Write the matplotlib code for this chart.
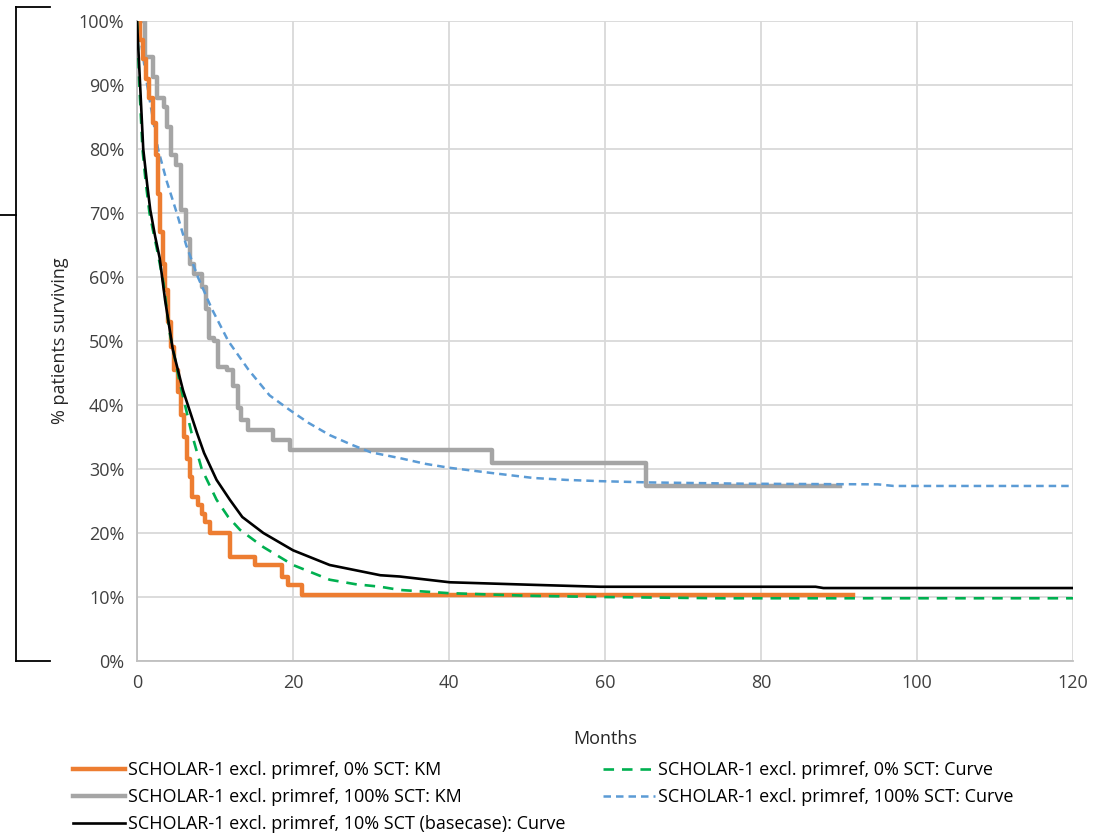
import matplotlib
matplotlib.use('Agg')
from matplotlib import pyplot as plt
from matplotlib.lines import Line2D
import numpy as np

plt.rcParams['font.family'] = ['Liberation Sans Narrow', 'Open Sans', 'DejaVu Sans']

# KM: 0% SCT (step, post)
km0_t = [0, 0.4, 0.8, 1.2, 1.6, 2.0, 2.4, 2.7, 3.0, 3.3, 3.6, 4.0, 4.4, 4.8, 5.2, 5.6,
         6.0, 6.4, 6.8, 7.1, 7.8, 8.3, 8.7, 9.4, 11.9, 15.1, 18.6, 19.4, 21.1, 91.8]
km0_s = [100, 97, 94, 91, 88, 84, 79, 73, 67, 62, 58, 53, 49, 45.5, 42, 38.5,
         35, 31.5, 28.7, 25.6, 24.4, 23, 21.7, 20, 16.3, 15, 13.1, 11.9, 10.3, 10.3]

# KM: 100% SCT
km100_t = [0, 1.0, 2.1, 2.6, 3.4, 3.9, 4.3, 5.0, 5.6, 6.3, 6.8, 7.3, 8.3, 8.8, 9.2, 9.9,
           10.4, 11.6, 12.3, 12.9, 13.3, 14.2, 17.4, 19.6, 45.5, 65.3, 90.1]
km100_s = [100, 94.4, 91.2, 88, 86.5, 83.5, 79, 77.5, 70.5, 66, 62, 60.5, 58.5, 55, 50.5, 50,
           46, 45.5, 43, 39.5, 37.7, 36.1, 34.5, 33, 30.9, 27.4, 27.4]

# fitted curves
c0_t = [0, 0.3, 0.7, 1.1, 1.6, 2.1, 2.7, 3.4, 4.2, 5.5, 7.0, 8.3, 10.2, 11.7, 13.2, 16.2,
        20, 24.7, 28, 31.2, 33.7, 40, 50, 59.4, 75, 120]
c0_s = [100, 90, 80, 75, 70, 67, 63.5, 59, 51.2, 43.4, 35.6, 30, 25.2, 22.5, 20.5, 17.8,
        15, 12.7, 12, 11.6, 11.1, 10.6, 10.2, 10, 9.8, 9.8]

c100_t = [0, 0.6, 1.3, 2.0, 2.7, 3.8, 5.1, 6.3, 7.8, 9.6, 11.7, 14.3, 17, 19.6, 22, 24.7,
          27.5, 30, 33.7, 37, 40, 45.3, 50.8, 55, 59.4, 65.8, 78, 95, 97, 120]
c100_s = [100, 96, 90, 85, 80, 75, 70, 65, 60, 55, 50, 45.5, 41.5, 39.2, 37.2, 35.3,
          33.8, 32.6, 31.7, 30.8, 30.2, 29.4, 28.6, 28.3, 28.1, 27.9, 27.7, 27.6, 27.35, 27.35]

base_t = [0, 0.4, 0.8, 1.3, 1.7, 2.3, 2.9, 3.6, 4.6, 5.9, 7.7, 8.6, 10.2, 11.9, 13.5, 16.2,
          20, 24.7, 31.2, 33.7, 40.1, 50.8, 59.4, 87, 88, 120]
base_s = [100, 90, 80, 74.5, 70.5, 66.5, 63, 56.4, 48.6, 42.3, 35.6, 32.5, 28.3, 25.2, 22.5, 20,
          17.3, 15, 13.4, 13.2, 12.3, 11.9, 11.6, 11.6, 11.4, 11.4]

labels = ['SCHOLAR-1 excl. primref, 0% SCT: KM',
          'SCHOLAR-1 excl. primref, 100% SCT: KM',
          'SCHOLAR-1 excl. primref, 10% SCT (basecase): Curve',
          'SCHOLAR-1 excl. primref, 0% SCT: Curve',
          'SCHOLAR-1 excl. primref, 100% SCT: Curve']

W, H = 1106, 838
fig = plt.figure(figsize=(W / 100, H / 100), dpi=100)
ax = fig.add_axes([137 / W, 1 - 661 / H, (1073 - 137) / W, (661 - 21) / H])

orange = '#ED7D31'
grey = '#A5A5A5'
green = '#00B050'
blue = '#5B9BD5'

ax.plot(c100_t, c100_s, color=blue, lw=1.8, dashes=(3, 2), zorder=3)
ax.step(km100_t, km100_s, where='post', color=grey, lw=3.2, zorder=2)
ax.step(km0_t, km0_s, where='post', color=orange, lw=3.2, zorder=3)
ax.plot(c0_t, c0_s, color=green, lw=1.9, dashes=(4, 3), zorder=4)
ax.plot(base_t, base_s, color='black', lw=1.9, zorder=5)

ax.set_xlim(0, 120)
ax.set_ylim(0, 100)
ax.set_xticks(np.arange(0, 121, 20))
ax.set_yticks(np.arange(0, 101, 10))
ax.set_yticklabels(['%d%%' % v for v in range(0, 101, 10)])
ax.grid(True, color='#d9d9d9', lw=1.3)
ax.set_axisbelow(True)
for s in ['top', 'right']:
    ax.spines[s].set_visible(False)
for s in ['left', 'bottom']:
    ax.spines[s].set_color('#bfbfbf')
    ax.spines[s].set_linewidth(1.3)
ax.tick_params(length=0, labelsize=13, colors='#404040', pad=9)
ax.set_xlabel('Months', fontsize=13, color='#262626', labelpad=28)
ax.set_ylabel('% patients surviving', fontsize=13, color='#262626', labelpad=7)

# legend, two columns placed separately
h1 = [Line2D([], [], color=orange, lw=3.2),
      Line2D([], [], color=grey, lw=3.2),
      Line2D([], [], color='black', lw=1.9)]
h2 = [Line2D([], [], color=green, lw=1.9, dashes=(4, 3)),
      Line2D([], [], color=blue, lw=1.8, dashes=(3, 2))]
kw = dict(frameon=False, fontsize=13, handlelength=2.9, handletextpad=0.15,
          labelspacing=0.5, borderaxespad=0, borderpad=0)
leg1 = fig.legend(h1, labels[:3], loc='upper left', bbox_to_anchor=(73 / W, 1 - 761 / H), **kw)
leg2 = fig.legend(h2, labels[3:], loc='upper left', bbox_to_anchor=(603 / W, 1 - 761 / H), **kw)

# bracket at left edge
bx = 16 / W
fig.add_artist(Line2D([bx, bx], [1 - 7 / H, 1 - 661 / H], color='black', lw=1.3))
fig.add_artist(Line2D([bx, 50 / W], [1 - 7 / H, 1 - 7 / H], color='black', lw=1.3))
fig.add_artist(Line2D([bx, 50 / W], [1 - 661 / H, 1 - 661 / H], color='black', lw=1.3))
fig.add_artist(Line2D([0, bx], [1 - 215 / H, 1 - 215 / H], color='black', lw=1.3))

fig.savefig('out.png', dpi=100, facecolor='white')
